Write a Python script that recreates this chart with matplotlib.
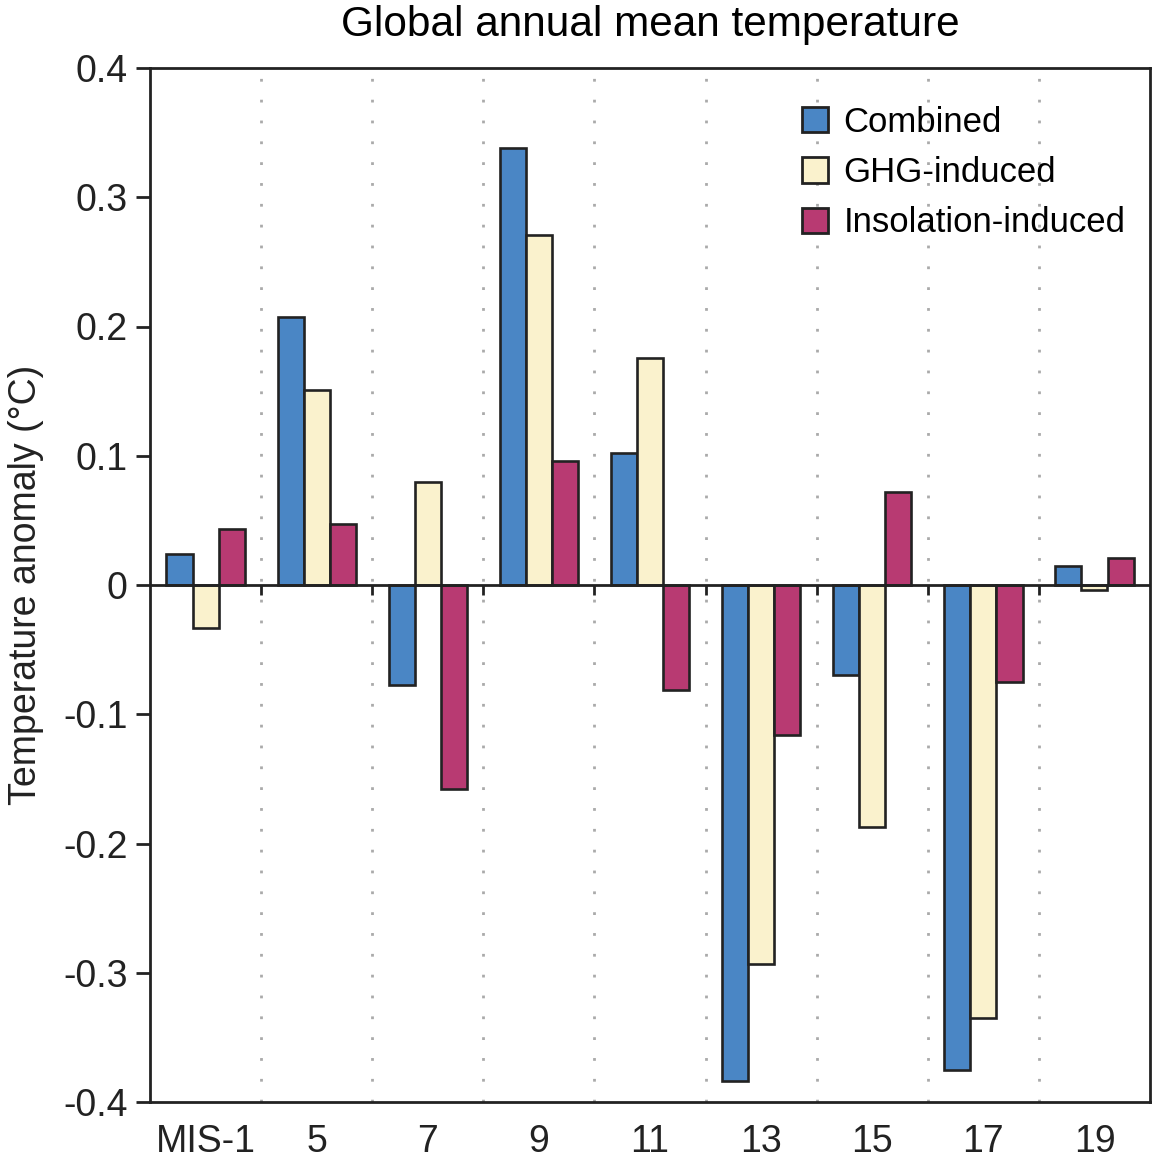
import numpy as np
import matplotlib.pyplot as plt
from matplotlib.patches import Patch

plt.rcParams['font.family'] = ['Liberation Sans', 'DejaVu Sans']

stages = ['MIS-1', '5', '7', '9', '11', '13', '15', '17', '19']
combined = [0.024, 0.207, -0.077, 0.338, 0.102, -0.384, -0.070, -0.375, 0.015]
ghg = [-0.033, 0.151, 0.080, 0.271, 0.176, -0.293, -0.187, -0.335, -0.004]
insolation = [0.043, 0.047, -0.158, 0.096, -0.081, -0.116, 0.072, -0.075, 0.021]
yticks = [0.4, 0.3, 0.2, 0.1, 0, -0.1, -0.2, -0.3, -0.4]
ytick_labels = ['0.4', '0.3', '0.2', '0.1', '0', '-0.1', '-0.2', '-0.3', '-0.4']

c_comb = '#4a86c5'
c_ghg = '#faf2cd'
c_ins = '#b83a72'

fig = plt.figure(figsize=(11.53, 11.61), dpi=100)
ax = fig.add_axes([150 / 1153, 59 / 1161, 1000 / 1153, 1034 / 1161])

x = np.arange(len(stages))
w = 0.235
kw = dict(edgecolor='#222222', linewidth=1.9, zorder=3)
ax.bar(x - w, combined, w, color=c_comb, **kw)
ax.bar(x, ghg, w, color=c_ghg, **kw)
ax.bar(x + w, insolation, w, color=c_ins, **kw)

# group separators
seps = x[:-1] + 0.5
for s in seps:
    ax.axvline(s, color='#aaaaaa', linewidth=2, linestyle=(0, (1, 6.5)), zorder=1)
ax.vlines(seps, -0.008, 0, color='#222222', linewidth=2, zorder=4)
ax.axhline(0, color='#222222', linewidth=2, zorder=4)

ax.set_xlim(-0.5, len(stages) - 0.5)
ax.set_ylim(-0.4, 0.4)
ax.set_yticks(yticks)
ax.set_yticklabels(ytick_labels)
ax.set_xticks(x)
ax.set_xticklabels(stages)
ax.tick_params(axis='y', direction='out', length=10, width=2, labelsize=27, pad=6, colors='#222222')
ax.tick_params(axis='x', length=0, labelsize=27, pad=16, colors='#222222')
for sp in ax.spines.values():
    sp.set_linewidth(2)
    sp.set_color('#222222')

ax.set_ylabel('Temperature anomaly (°C)', fontsize=27, labelpad=14, color='#222222')
ax.set_title('Global annual mean temperature', fontsize=30.5, pad=23)

handles = [Patch(facecolor=c_comb, edgecolor='#222222', linewidth=2),
           Patch(facecolor=c_ghg, edgecolor='#222222', linewidth=2),
           Patch(facecolor=c_ins, edgecolor='#222222', linewidth=2)]
ax.legend(handles, ['Combined', 'GHG-induced', 'Insolation-induced'],
          loc='upper right', bbox_to_anchor=(1.0, 0.987), frameon=False, fontsize=25,
          handlelength=0.75, handleheight=0.75, handletextpad=0.45, labelspacing=0.5,
          borderaxespad=0.3)

fig.savefig('out.png', dpi=100)
